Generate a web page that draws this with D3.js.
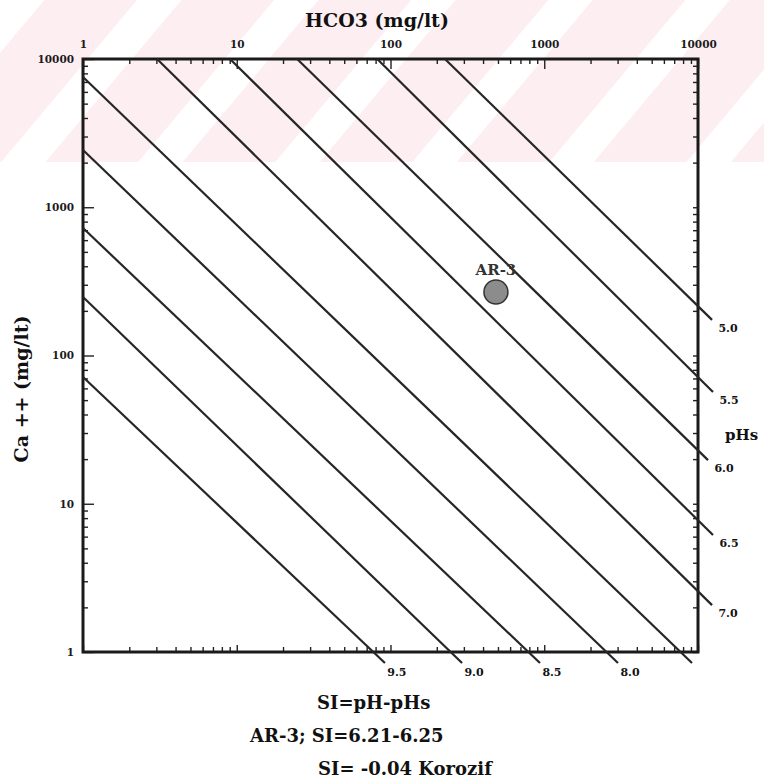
<!DOCTYPE html>
<html>
<head>
<meta charset="utf-8">
<script src="https://cdn.jsdelivr.net/npm/d3@7"></script>
<style>
  body { margin: 0; background: #fff; }
  text { font-family: "DejaVu Serif", "Liberation Serif", serif; font-weight: bold; fill: #111; }
</style>
</head>
<body>
<div id="chart"></div>
<script>
// axis decades (labelled ticks)
const hco3Ticks = [1, 10, 100, 1000, 10000];
const caTicks = [1, 10, 100, 1000, 10000];

// pHs isolines, start and end points as [HCO3, Ca]
const pHsValues = ["5.0", "5.5", "6.0", "6.5", "7.0", "7.5", "8.0", "8.5", "9.0", "9.5"];
const lineStart = [[226, 10000], [82, 10000], [24.7, 10000], [9.04, 10000], [3.03, 10000],
                   [1, 7560], [1, 2432], [1, 724], [1, 248], [1, 71.6]];
const lineEnd = [[12340, 174], [12520, 56.7], [11620, 19.7], [12520, 6.15], [12340, 2.07],
                 [9140, 0.843], [3017, 0.843], [938, 0.843], [292, 0.843], [92, 0.843]];
const labelSide = ["right", "right", "right", "right", "right", "none", "bottom", "bottom", "bottom", "bottom"];

// sample point
const sampleNames = ["AR-3"];
const sampleHCO3 = [485];
const sampleCa = [268];

const notes = ["SI=pH-pHs", "AR-3; SI=6.21-6.25", "SI= -0.04 Korozif"];

const W = 764, H = 782;
const margin = { top: 59, right: 66, bottom: 130, left: 83 };
const width = W - margin.left - margin.right;   // 615
const height = H - margin.top - margin.bottom;  // 593

const root = d3.select("#chart").append("svg")
    .attr("width", W)
    .attr("height", H);

// faint pink watermark band at the top of the page
const defs = root.append("defs");
const pat = defs.append("pattern")
    .attr("id", "wm")
    .attr("patternUnits", "userSpaceOnUse")
    .attr("width", 105)
    .attr("height", 105)
    .attr("patternTransform", "rotate(40)");
pat.append("rect").attr("width", 105).attr("height", 105).attr("fill", "#fdeef1");
pat.append("rect").attr("x", 0).attr("width", 34).attr("height", 105).attr("fill", "#ffffff");
root.append("rect")
    .attr("width", W)
    .attr("height", 162)
    .attr("fill", "url(#wm)");

const svg = root.append("g")
    .attr("transform", `translate(${margin.left},${margin.top})`);

const x = d3.scaleLog().domain([1, 10000]).range([0, width]);
const y = d3.scaleLog().domain([1, 10000]).range([height, 0]);

const isMajor = d => caTicks.includes(d) || hco3Ticks.includes(d);

function styleAxis(g, majorLen, attr, sign) {
    g.select(".domain").remove();
    g.selectAll(".tick line")
        .attr("stroke", "#222")
        .attr("stroke-width", 1.4)
        .attr(attr, d => sign * (isMajor(d) ? majorLen : 5));
    g.selectAll(".tick text")
        .style("font-size", "10.5px")
        .style("fill", "#1a1a1a");
}

// top axis (HCO3), ticks pointing inward
svg.append("g")
    .call(d3.axisTop(x)
        .tickValues(x.ticks())
        .tickSize(-5)
        .tickPadding(11)
        .tickFormat(d => hco3Ticks.includes(d) ? d : ""))
    .call(g => styleAxis(g, 10, "y2", 1));

// bottom axis, no labels
svg.append("g")
    .attr("transform", `translate(0,${height})`)
    .call(d3.axisBottom(x).tickValues(x.ticks()).tickSize(-5).tickFormat(""))
    .call(g => styleAxis(g, 7, "y2", -1));

// left axis (Ca)
svg.append("g")
    .call(d3.axisLeft(y)
        .tickValues(y.ticks())
        .tickSize(-5)
        .tickPadding(9)
        .tickFormat(d => caTicks.includes(d) ? d : ""))
    .call(g => styleAxis(g, 11, "x2", 1));

// right axis, no labels
svg.append("g")
    .attr("transform", `translate(${width},0)`)
    .call(d3.axisRight(y).tickValues(y.ticks()).tickSize(-4).tickFormat(""))
    .call(g => styleAxis(g, 5, "x2", -1));

// frame
svg.append("rect")
    .attr("width", width)
    .attr("height", height)
    .attr("fill", "none")
    .attr("stroke", "#1a1a1a")
    .attr("stroke-width", 3);

// pHs lines
const lines = pHsValues.map((v, i) => ({ v, s: lineStart[i], e: lineEnd[i], side: labelSide[i] }));

svg.selectAll(".phs-line")
    .data(lines)
    .enter()
    .append("line")
    .attr("class", "phs-line")
    .attr("x1", d => x(d.s[0]))
    .attr("y1", d => y(d.s[1]))
    .attr("x2", d => x(d.e[0]))
    .attr("y2", d => y(d.e[1]))
    .attr("stroke", "#262626")
    .attr("stroke-width", 2.2);

svg.selectAll(".phs-label")
    .data(lines.filter(d => d.side !== "none"))
    .enter()
    .append("text")
    .attr("class", "phs-label")
    .attr("x", d => x(d.e[0]) + (d.side === "right" ? 16 : 12))
    .attr("y", d => y(d.e[1]) + (d.side === "right" ? 12 : 13))
    .attr("text-anchor", "middle")
    .style("font-size", "11px")
    .text(d => d.v);

// sample point
const samples = sampleNames.map((n, i) => ({ n, hco3: sampleHCO3[i], ca: sampleCa[i] }));

svg.selectAll(".sample")
    .data(samples)
    .enter()
    .append("circle")
    .attr("class", "sample")
    .attr("cx", d => x(d.hco3))
    .attr("cy", d => y(d.ca))
    .attr("r", 12)
    .attr("fill", "#8c8c8c")
    .attr("stroke", "#333")
    .attr("stroke-width", 1.5);

svg.selectAll(".sample-label")
    .data(samples)
    .enter()
    .append("text")
    .attr("class", "sample-label")
    .attr("x", d => x(d.hco3))
    .attr("y", d => y(d.ca) - 17)
    .attr("text-anchor", "middle")
    .style("font-size", "15px")
    .style("fill", "#333")
    .text(d => d.n);

// axis titles
svg.append("text")
    .attr("x", 294)
    .attr("y", -32)
    .attr("text-anchor", "middle")
    .style("font-size", "19px")
    .text("HCO3 (mg/lt)");

svg.append("text")
    .attr("transform", "rotate(-90)")
    .attr("x", -330)
    .attr("y", -55)
    .attr("text-anchor", "middle")
    .style("font-size", "19px")
    .text("Ca ++ (mg/lt)");

svg.append("text")
    .attr("x", width + 27)
    .attr("y", 381)
    .style("font-size", "15px")
    .text("pHs");

// notes under the chart
const noteX = [317, 250, 318];
const noteY = [709, 742, 775];
root.selectAll(".note")
    .data(notes)
    .enter()
    .append("text")
    .attr("class", "note")
    .attr("x", (d, i) => noteX[i])
    .attr("y", (d, i) => noteY[i])
    .style("font-size", "18px")
    .text(d => d);
</script>
</body>
</html>
